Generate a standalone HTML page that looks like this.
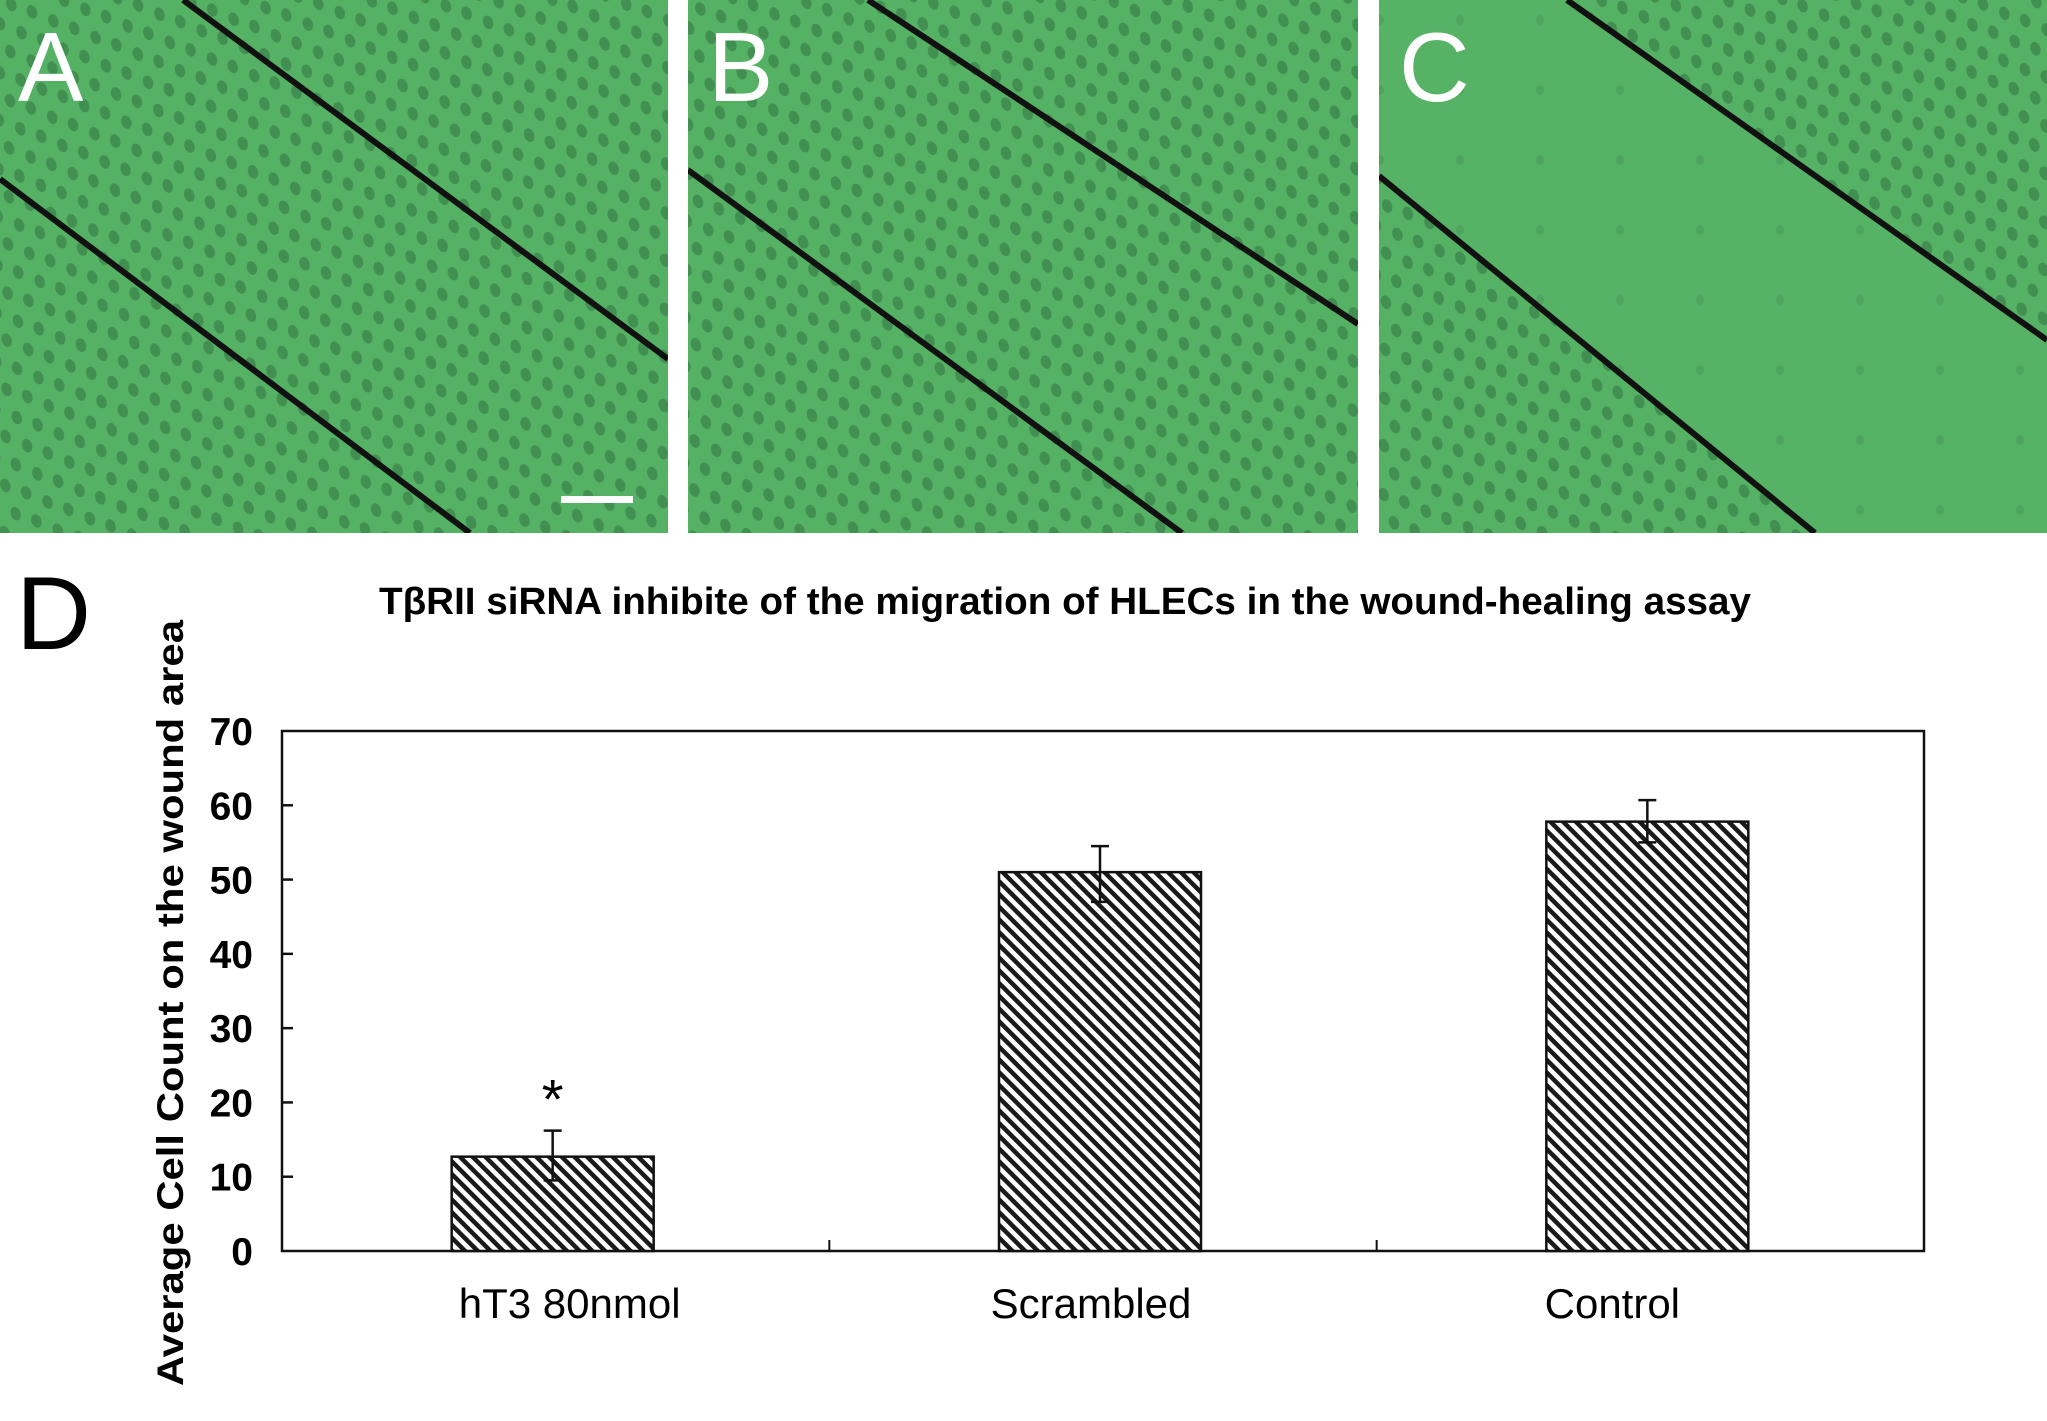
<!DOCTYPE html>
<html><head><meta charset="utf-8">
<style>
html,body{margin:0;padding:0;background:#fff;}
svg{display:block;}
text{font-family:"Liberation Sans",sans-serif;}
</style></head>
<body>
<svg id="fig" width="2047" height="1421" viewBox="0 0 2047 1421" xmlns="http://www.w3.org/2000/svg">
<defs>
<pattern id="cells" width="34" height="30" patternUnits="userSpaceOnUse" patternTransform="rotate(-20)">
<rect width="34" height="30" fill="#55b265"/>
<ellipse cx="9" cy="8" rx="5" ry="7" fill="#3c844a" opacity="0.75"/>
<ellipse cx="26" cy="22" rx="5" ry="7" fill="#3c844a" opacity="0.75"/>
</pattern>
<pattern id="cellsSparse" width="80" height="70" patternUnits="userSpaceOnUse">
<rect width="80" height="70" fill="#56b366"/>
<ellipse cx="20" cy="20" rx="4" ry="5" fill="#4a9a58" opacity="0.6"/>
</pattern>
<pattern id="hatch" width="9" height="9" patternUnits="userSpaceOnUse" patternTransform="rotate(-45)">
<rect width="9" height="9" fill="#fff"/>
<rect x="0" y="0" width="4.5" height="9" fill="#1a1a1a"/>
</pattern>
<clipPath id="clipA"><rect x="0" y="0" width="668" height="533"/></clipPath>
<clipPath id="clipB"><rect x="688" y="0" width="670" height="533"/></clipPath>
<clipPath id="clipC"><rect x="1379" y="0" width="668" height="533"/></clipPath>
</defs>

<g clip-path="url(#clipA)">
<rect x="0" y="0" width="668" height="533" fill="url(#cells)"/>
<line x1="183" y1="0" x2="668" y2="359" stroke="#111" stroke-width="6"/>
<line x1="0" y1="179" x2="470" y2="533" stroke="#111" stroke-width="6"/>
<rect x="561" y="496" width="72" height="7" fill="#fff"/>
<text x="18" y="101" font-size="98" fill="#fff">A</text>
</g>
<g clip-path="url(#clipB)">
<rect x="688" y="0" width="670" height="533" fill="url(#cells)"/>
<line x1="868" y1="0" x2="1358" y2="324" stroke="#111" stroke-width="6"/>
<line x1="688" y1="170" x2="1182" y2="533" stroke="#111" stroke-width="6"/>
<text x="708" y="101" font-size="98" fill="#fff">B</text>
</g>
<g clip-path="url(#clipC)">
<rect x="1379" y="0" width="668" height="533" fill="url(#cells)"/>
<polygon points="1567,0 2047,340 2047,533 1815,533 1379,176 1379,0" fill="url(#cellsSparse)"/>
<line x1="1567" y1="0" x2="2047" y2="340" stroke="#111" stroke-width="6"/>
<line x1="1379" y1="176" x2="1815" y2="533" stroke="#111" stroke-width="6"/>
<text x="1399" y="101" font-size="98" fill="#fff">C</text>
</g>

<text x="16" y="649" font-size="104">D</text>
<text x="379" y="614" font-size="38" font-weight="bold" textLength="1372" lengthAdjust="spacingAndGlyphs">TβRII siRNA inhibite of the migration of HLECs in the wound-healing assay</text>
<text transform="translate(183,1003) rotate(-90)" text-anchor="middle" font-size="37" font-weight="bold" textLength="766" lengthAdjust="spacingAndGlyphs">Average Cell Count on the wound area</text>

<g id="chart"></g>
</svg>
<script>
const categories = ["hT3 80nmol", "Scrambled", "Control"];
const values = [12.7, 51, 57.8];
const errLow = [9.5, 47, 55];
const errHigh = [16.2, 54.5, 60.7];
const yTicks = [0, 10, 20, 30, 40, 50, 60, 70];
const sigMarks = ["*", "", ""];

const NS = "http://www.w3.org/2000/svg";
const g = document.getElementById("chart");
const X0 = 282, X1 = 1924, Y0 = 1251, Y1 = 731, YMAX = 70;
function yScale(v){ return Y0 - (v / YMAX) * (Y0 - Y1); }
const band = (X1 - X0) / categories.length;
function xCenter(i){ return X0 + band * (i + 0.5) - 3; }
function labelX(i){ return X0 + band * (i + 0.5) + 14 - 26 * i; }
const barW = 202;
function mk(tag, attrs){ const e = document.createElementNS(NS, tag); for (const k in attrs) e.setAttribute(k, attrs[k]); g.appendChild(e); return e; }

let frame = mk("rect", {x: X0, y: Y1, width: X1 - X0, height: Y0 - Y1, fill: "none", stroke: "#111", "stroke-width": 2.5});



yTicks.forEach(t => {
  const y = yScale(t);
  if (t > 0 && t < YMAX) {
    const tk = mk("line", {x1: X0, x2: X0 + 11, y1: y, y2: y, stroke: "#111", "stroke-width": 2.5});
    
    
  }
  const lb = mk("text", {x: 253, y: y + 14, "text-anchor": "end", "font-size": 39, "font-weight": "bold"});
  lb.textContent = t;
  
  
});

for (let i = 1; i < categories.length; i++) {
  const x = X0 + band * i;
  const tk = mk("line", {x1: x, x2: x, y1: Y0, y2: Y0 - 11, stroke: "#111", "stroke-width": 2});
  
  
}

categories.forEach((c, i) => {
  const cx = xCenter(i);
  const top = yScale(values[i]);
  const bar = mk("rect", {x: cx - barW/2, y: top, width: barW, height: Y0 - top, fill: "url(#hatch)", stroke: "#111", "stroke-width": 2.5});
  
  
  const eh = yScale(errHigh[i]), el = yScale(errLow[i]);
  const ev = mk("line", {x1: cx, x2: cx, y1: eh, y2: el, stroke: "#111", "stroke-width": 2.5});
  
  
  const ct = mk("line", {x1: cx - 9, x2: cx + 9, y1: eh, y2: eh, stroke: "#111", "stroke-width": 2.5});
  
  
  const cb = mk("line", {x1: cx - 9, x2: cx + 9, y1: el, y2: el, stroke: "#111", "stroke-width": 2.5});
  
  
  if (sigMarks[i]) {
    const s = mk("text", {x: cx, y: eh - 12, "text-anchor": "middle", "font-size": 56});
    s.textContent = sigMarks[i];
    
    
  }
  const lb = mk("text", {x: labelX(i), y: 1318, "text-anchor": "middle", "font-size": 42});
  lb.textContent = c;
  
  
});
</script>
</body></html>
